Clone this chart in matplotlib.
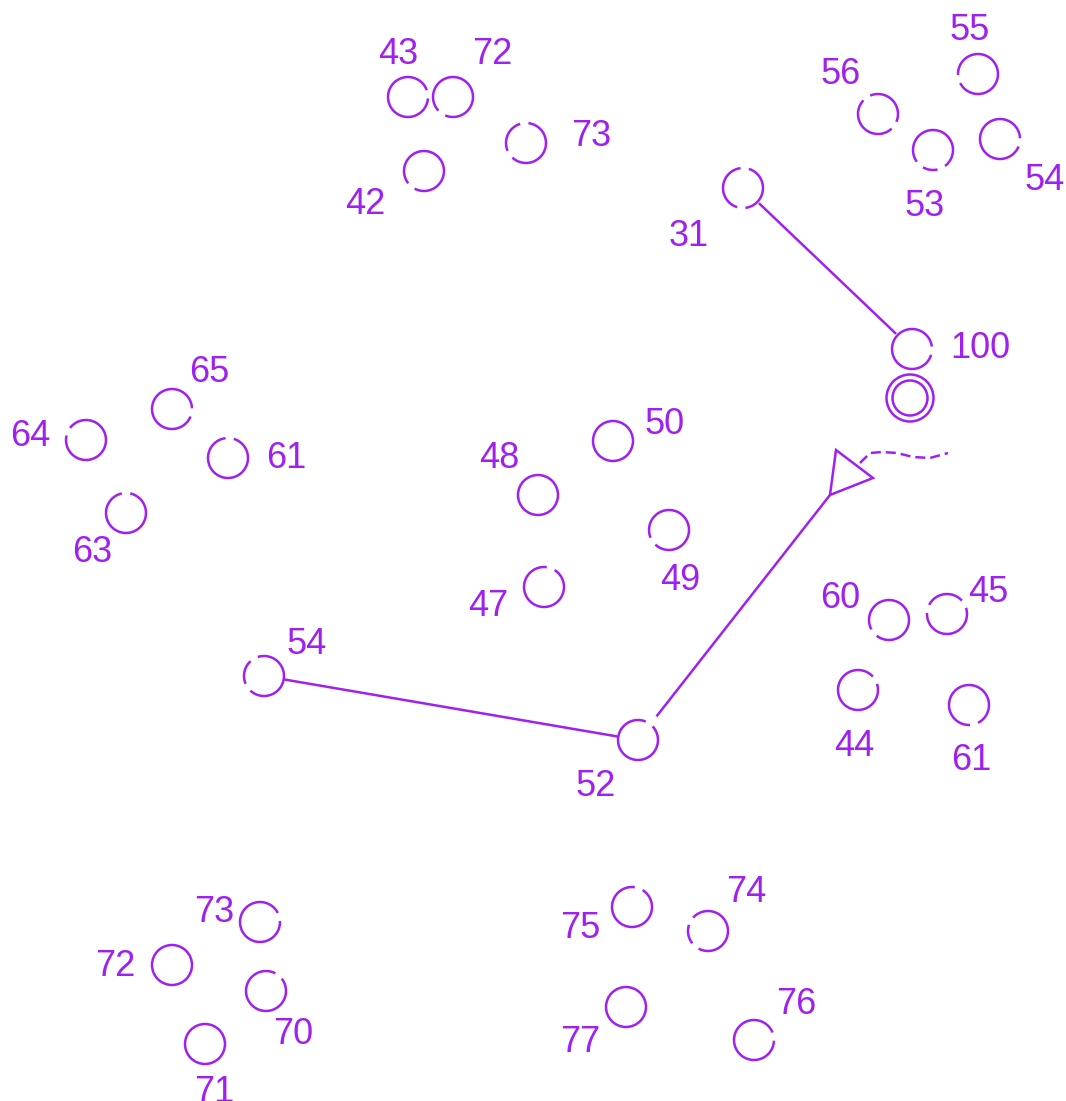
#!/usr/bin/env python3
# -*- coding: utf-8 -*-
"""
Orienteering style control map: gapped control circles, code labels,
start triangle, finish double circle and course legs.
"""

import numpy as np
import matplotlib.pyplot as plt
from matplotlib.patches import Polygon, Circle

PURPLE = '#a020f0'
RADIUS = 20
GAP_W = 24
LW = 1.8
TEXT_DY = 3  # matplotlib centres on the line box, digits sit a bit higher

# control circles (pixel coordinates on the map)
codes = ['43', '72', '73', '42', '56', '55', '53', '54', '31', '100',
         '65', '64', '61', '63', '50', '48', '49', '47', '54', '52',
         '60', '45', '44', '61', '73', '72', '70', '71', '75', '74',
         '77', '76']
ctrl_x = [408, 453, 526, 424, 878, 978, 933, 1000, 743, 912,
          172, 86, 228, 126, 613, 538, 669, 544, 264, 638,
          889, 947, 858, 969, 260, 172, 266, 205, 632, 708,
          626, 754]
ctrl_y = [97, 97, 143, 171, 114, 74, 150, 139, 188, 349,
          409, 440, 458, 513, 441, 495, 530, 587, 676, 740,
          620, 614, 690, 705, 922, 965, 991, 1044, 907, 931,
          1007, 1040]
# label centres
label_x = [398, 492, 591, 365, 841, 970, 925, 1045, 689, 980,
           209, 30, 286, 92, 665, 499, 680, 488, 307, 596,
           840, 988, 854, 971, 214, 115, 293, 214, 580, 746,
           580, 796]
label_y = [52, 52, 133, 202, 71, 28, 203, 178, 234, 345,
           369, 433, 456, 550, 422, 455, 577, 603, 641, 783,
           596, 589, 744, 758, 909, 964, 1032, 1089, 926, 890,
           1039, 1001]
# gap directions in each circle (degrees, 0 = right, 90 = up)
gaps = [[8], [235], [95, 215], [230], [125, -35], [195], [228, 295], [-10], [85, 265], [-5],
        [-10], [155], [85], [90], [], [], [215], [70], [120, 215], [55],
        [220], [30, 165], [30], [285], [15], [], [50], [], [70], [150, 230],
        [], [10]]

# course legs: (from control index, to point), with trims at each end
leg_from = [18, 19, 8]
leg_to_x = [638, 830, 912]
leg_to_y = [740, 495, 349]
leg_trim_start = [20, 30, 22]
leg_trim_end = [20, 0, 22]

start_tri_x = [836, 873, 830]
start_tri_y = [450, 478, 495]
finish_x, finish_y = 910, 398
finish_r = [23.5, 17.5]

tail_x = [860, 870, 882, 897, 913, 930, 948]
tail_y = [463, 453, 452, 453, 457, 458, 453]


def draw_control(ax, x, y, gap_list):  # ===========================================
    """Circle with small gaps, angles in screen sense (y down)."""
    if not gap_list:
        ax.add_patch(Circle((x, y), RADIUS, fill=False, ec=PURPLE, lw=LW))
        return
    g = sorted(a % 360 for a in gap_list)
    for i in range(len(g)):
        a0 = g[i] + GAP_W / 2
        a1 = g[(i + 1) % len(g)] - GAP_W / 2
        if a1 <= a0:
            a1 += 360
        t = np.radians(np.linspace(a0, a1, 200))
        ax.plot(x + RADIUS * np.cos(t), y - RADIUS * np.sin(t),
                color=PURPLE, lw=LW, solid_capstyle='butt')


def main():  # =======================================================================
    fig = plt.figure(figsize=(10.66, 11.01), dpi=100)
    ax = fig.add_axes([0, 0, 1, 1])
    ax.set_xlim(0, 1066)
    ax.set_ylim(1101, 0)
    ax.axis('off')

    for i in range(len(codes)):
        draw_control(ax, ctrl_x[i], ctrl_y[i], gaps[i])
        ax.text(label_x[i], label_y[i] + TEXT_DY, codes[i], color=PURPLE, fontsize=26,
                family='Liberation Sans', ha='center', va='center')

    # legs
    for i in range(len(leg_from)):
        x0, y0 = ctrl_x[leg_from[i]], ctrl_y[leg_from[i]]
        x1, y1 = leg_to_x[i], leg_to_y[i]
        d = np.hypot(x1 - x0, y1 - y0)
        ux, uy = (x1 - x0) / d, (y1 - y0) / d
        ax.plot([x0 + ux * leg_trim_start[i], x1 - ux * leg_trim_end[i]],
                [y0 + uy * leg_trim_start[i], y1 - uy * leg_trim_end[i]],
                color=PURPLE, lw=LW, solid_capstyle='butt')

    # start triangle
    ax.add_patch(Polygon(list(zip(start_tri_x, start_tri_y)), closed=True,
                         fill=False, ec=PURPLE, lw=LW, joinstyle='miter'))
    ax.plot(tail_x, tail_y, color=PURPLE, lw=LW, linestyle=(0, (4.0, 2.0)))

    # finish
    for r in finish_r:
        ax.add_patch(Circle((finish_x, finish_y), r, fill=False, ec=PURPLE, lw=LW))

    plt.savefig('out.png', dpi=100)
    return 0


if __name__ == "__main__":
    main()
